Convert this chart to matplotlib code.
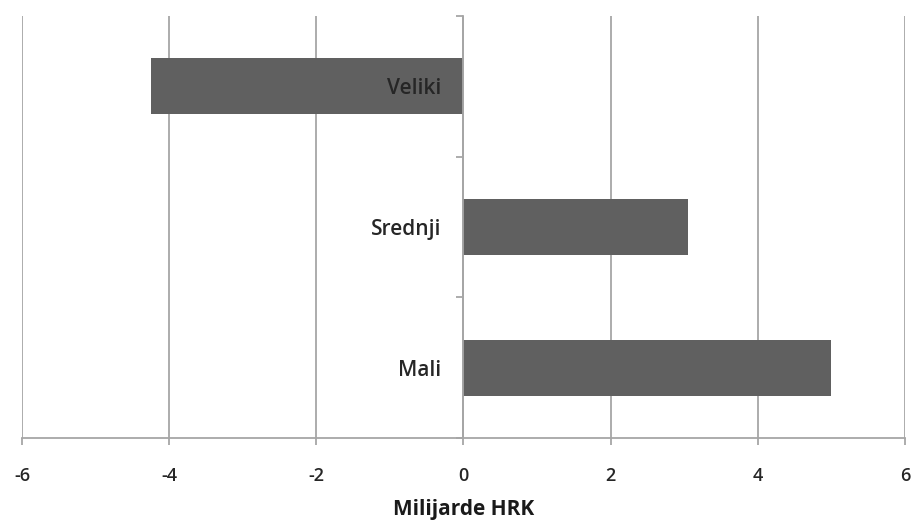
import numpy as np
import matplotlib
matplotlib.use("Agg")
import matplotlib.pyplot as plt

plt.rcParams["font.family"] = ["Open Sans", "DejaVu Sans"]

# data (bottom to top)
categories = ["Mali", "Srednji", "Veliki"]
values = [5.0, 3.05, -4.25]
xticks = [-6, -4, -2, 0, 2, 4, 6]

fig = plt.figure(figsize=(9.12, 5.25), dpi=100)
ax = fig.add_axes([0.0241, 0.1657, 0.9682, 0.8038])

pos = np.arange(len(categories))
ax.barh(pos, values, height=0.4, color="#606060", zorder=3)

ax.set_xlim(-6, 6)
ax.set_ylim(-0.5, len(categories) - 0.5)
ax.xaxis.grid(True, color="#a6a6a6", linewidth=1.3, zorder=0)
ax.tick_params(axis="x", length=5, width=1.3, color="#a6a6a6", pad=16,
               labelsize=13, labelcolor="#262626")
ax.set_xticks(xticks)
ax.set_xticklabels([str(t) for t in xticks])

# category boundaries as major ticks, names as minor ticks
ax.set_yticks(np.arange(len(categories) + 1) - 0.5)
ax.set_yticklabels([])
ax.set_yticks(pos, minor=True)
ax.set_yticklabels(categories, minor=True)
ax.tick_params(axis="y", which="major", length=5, width=1.3, color="#a6a6a6")
ax.tick_params(axis="y", which="minor", length=0, pad=16,
               labelsize=15, labelcolor="#262626")
ax.yaxis.set_zorder(5)  # so "Veliki" shows on top of its bar

for s in ["top", "right"]:
    ax.spines[s].set_visible(False)
ax.spines["left"].set_position(("data", 0))
ax.spines["left"].set_color("#a6a6a6")
ax.spines["left"].set_linewidth(1.3)
ax.spines["left"].set_zorder(4)
ax.spines["bottom"].set_color("#a6a6a6")
ax.spines["bottom"].set_linewidth(1.3)

ax.set_xlabel("Milijarde HRK", fontsize=15, fontweight="bold", color="#1a1a1a", labelpad=10)

# tick labels get rebuilt on draw, so set the weight afterwards
fig.canvas.draw()
plt.setp(ax.get_xticklabels(), fontweight="semibold")
plt.setp(ax.get_yticklabels(minor=True), fontweight="semibold")

fig.savefig("out.png", dpi=100)
